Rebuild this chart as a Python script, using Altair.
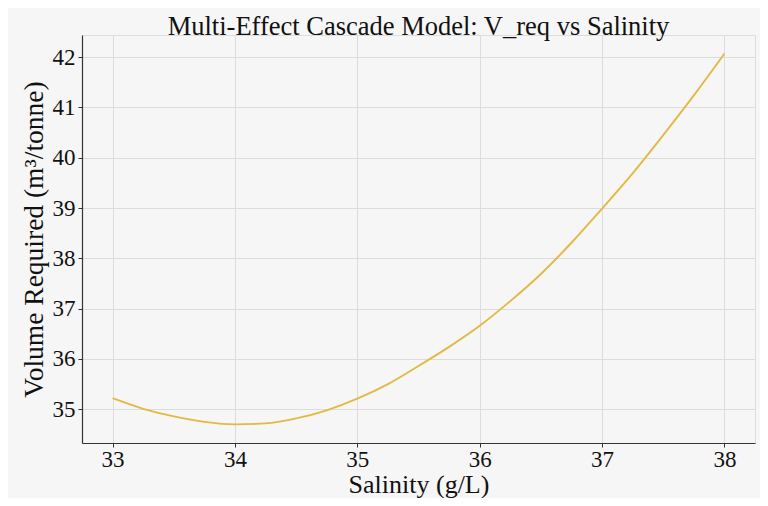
import altair as alt
import pandas as pd

salinity = [33.00, 33.25, 33.50, 33.75, 34.00, 34.25, 34.50, 34.75, 35.00, 35.25,
            35.50, 35.75, 36.00, 36.25, 36.50, 36.75, 37.00, 37.25, 37.50, 37.75, 38.00]
v_req = [35.22, 35.01, 34.86, 34.75, 34.70, 34.72, 34.82, 34.98, 35.21, 35.50,
         35.86, 36.24, 36.66, 37.15, 37.69, 38.31, 38.99, 39.69, 40.45, 41.24, 42.07]

x_ticks = [33, 34, 35, 36, 37, 38]
y_ticks = [35, 36, 37, 38, 39, 40, 41, 42]

df = pd.DataFrame({"salinity": salinity, "v": v_req})

FONT = "Liberation Serif, Times New Roman, serif"
BG = "#f6f6f6"
INK = "#111111"

axis_common = dict(
    labelFont=FONT, titleFont=FONT, labelFontSize=23,
    titleFontWeight="normal", labelColor=INK, titleColor=INK,
    domainColor="#333333", domainWidth=1.2, tickColor="#333333", tickSize=4,
    gridColor="#dcdcdc", gridWidth=1, format="d",
)

chart = alt.Chart(df).mark_line(
    color="#e3b942", strokeWidth=1.9, interpolate="monotone"
).encode(
    x=alt.X("salinity:Q",
            scale=alt.Scale(domain=[32.75, 38.25], nice=False, zero=False),
            axis=alt.Axis(values=x_ticks, title="Salinity (g/L)", titlePadding=0,
                          titleFontSize=26, labelPadding=1, **axis_common)),
    y=alt.Y("v:Q",
            scale=alt.Scale(domain=[34.33, 42.44], nice=False, zero=False),
            axis=alt.Axis(values=y_ticks, title="Volume Required (m³/tonne)",
                          titlePadding=4, titleFontSize=27.5, labelPadding=3,
                          **axis_common)),
).properties(
    width=673,
    height=408,
    title=alt.TitleParams("Multi-Effect Cascade Model: V_req vs Salinity",
                          font=FONT, fontSize=26.5, fontWeight="normal",
                          color=INK, offset=-5),
    background=BG,
    padding={"left": 74, "top": 27, "right": 5, "bottom": 55},
    autosize=alt.AutoSizeParams(type="none"),
).configure_view(
    stroke=None, fill=BG
).configure_axis(
    labelFont=FONT, titleFont=FONT
).configure(
    font=FONT
)

chart.save("out.html", embed_options={"renderer": "svg", "actions": False})
